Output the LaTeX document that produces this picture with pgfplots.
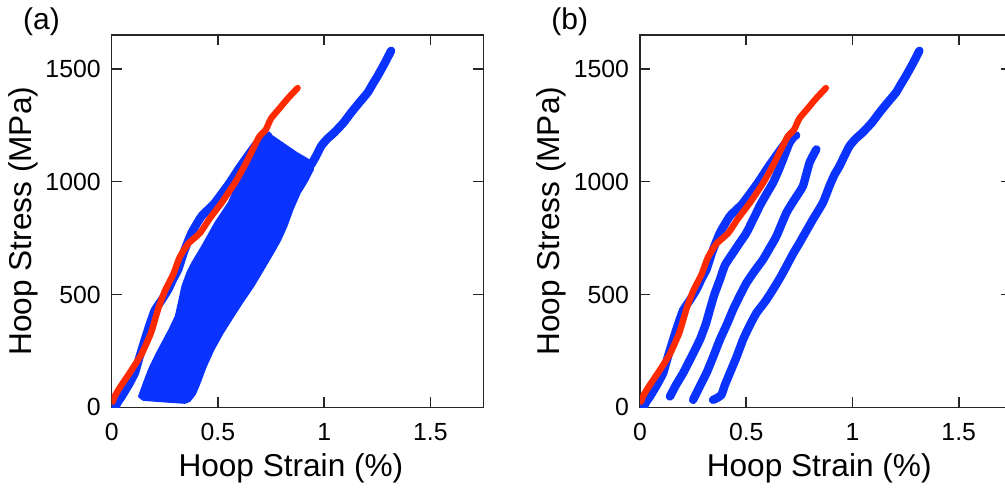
\documentclass[border=0pt]{standalone}
\usepackage{fontspec}
\setmainfont{Liberation Sans}
\usepackage{pgfplots}
\pgfplotsset{compat=1.18}
\usepackage{pgfplotstable}

\definecolor{hblue}{HTML}{0A33FF}
\definecolor{hred}{HTML}{FF2A00}

% red: monotonic reference test
\pgfplotstableread{
x y
0.005 25
0.015 50
0.040 90
0.090 160
0.140 235
0.185 330
0.220 440
0.250 515
0.290 590
0.320 665
0.360 725
0.415 772
0.460 835
0.520 910
0.580 995
0.625 1070
0.665 1145
0.695 1200
0.725 1230
0.750 1280
0.790 1325
0.830 1370
0.875 1415
}\redtab

% blue: first loading
\pgfplotstableread{
x y
0.016 0
0.030 25
0.047 48
0.080 100
0.109 152
0.130 220
0.156 300
0.180 370
0.203 430
0.235 475
0.266 522
0.290 570
0.313 611
0.330 660
0.344 699
0.376 773
0.423 847
0.480 900
0.520 950
0.555 995
0.600 1060
0.645 1120
0.680 1165
0.710 1195
0.735 1205
}\blueA

% blue: second loading
\pgfplotstableread{
x y
0.141 48
0.170 100
0.203 152
0.240 220
0.282 300
0.310 370
0.329 433
0.350 500
0.376 566
0.400 630
0.438 685
0.470 730
0.501 773
0.548 862
0.563 892
0.595 945
0.626 995
0.650 1045
0.673 1099
0.704 1173
0.728 1203
}\blueB

% blue: third loading
\pgfplotstableread{
x y
0.250 33
0.280 90
0.313 152
0.345 225
0.376 300
0.410 370
0.438 433
0.470 495
0.501 551
0.540 605
0.579 655
0.610 705
0.642 758
0.689 862
0.730 925
0.767 981
0.798 1084
0.830 1143
}\blueC

% blue: final loading to failure
\pgfplotstableread{
x y
0.344 33
0.360 40
0.383 55
0.400 100
0.423 152
0.455 225
0.485 300
0.515 360
0.548 418
0.590 470
0.626 522
0.660 575
0.689 625
0.720 680
0.751 729
0.785 785
0.814 833
0.861 907
0.892 981
0.915 1030
0.939 1069
0.960 1110
0.986 1158
1.015 1190
1.048 1218
1.090 1260
1.127 1306
1.165 1350
1.205 1395
1.230 1435
1.252 1469
1.285 1525
1.315 1580
}\blueD

% upper part of final loading (panel a)
\pgfplotstableread{
x y
0.939 1075
0.960 1110
0.986 1158
1.015 1190
1.048 1218
1.090 1260
1.127 1306
1.165 1350
1.205 1395
1.230 1435
1.252 1469
1.285 1525
1.315 1580
}\blueDtop

% cyclic band (panel a)
\pgfplotstableread{
x y
0.131 48
0.155 110
0.178 167
0.210 230
0.241 285
0.275 345
0.304 403
0.320 470
0.335 536
0.360 600
0.382 640
0.429 714
0.491 818
0.554 907
0.601 1010
0.663 1129
0.700 1190
0.726 1218
0.800 1170
0.870 1125
0.930 1092
0.945 1055
0.915 1000
0.883 951
0.850 880
0.820 803
0.790 740
0.757 685
0.710 610
0.663 536
0.615 470
0.569 403
0.520 330
0.476 255
0.440 180
0.411 107
0.390 60
0.365 30
0.345 22
0.250 28
0.150 35
0.131 48
}\band

\pgfplotsset{
  hoop/.style={
    scale only axis, width=185.9pt, height=186.15pt,
    xmin=0, xmax=1.75, ymin=0, ymax=1650,
    xtick={0,0.5,1,1.5}, ytick={0,500,1000,1500},
    xticklabels={0,0.5,1,1.5},
    scaled ticks=false,
    /pgf/number format/1000 sep={},
    /pgf/number format/assume math mode=true,
    axis line style={line width=0.8pt, black!85},
    major tick length=5.2pt,
    tick style={line width=0.8pt, black!85},
    tick align=inside,
    minor tick num=0,
    tick label style={font=\fontsize{12.4}{14}\selectfont},
    yticklabel style={xshift=-2pt},
    xticklabel style={yshift=-4.6pt},
    label style={font=\fontsize{15.8}{18}\selectfont},
    xlabel={Hoop Strain (\%)},
    ylabel={Hoop Stress (MPa)},
    xlabel style={at={(axis description cs:0.482,-0.164)}, anchor=center},
    ylabel style={at={(axis description cs:-0.2386,0.5)}, rotate=0, anchor=center},
    every axis title shift=0pt,
    title style={at={(axis description cs:-0.189,1.035)}, anchor=center,
      font=\fontsize{15}{18}\selectfont},
    bl/.style={hblue, line width=4.2pt, line cap=round, line join=round,
      smooth, tension=0.3},
    rl/.style={hred, line width=3.2pt, line cap=round, line join=round,
      smooth, tension=0.3},
  }
}

\begin{document}
\begin{tikzpicture}
\begin{axis}[hoop, title={(a)}]
  \addplot[hblue, fill=hblue, line width=1.5pt, line join=round] table {\band} -- cycle;
  \addplot[bl] table {\blueA};
  \addplot[bl] table {\blueDtop};
  \addplot[rl] table {\redtab};
\end{axis}
\begin{axis}[hoop, title={(b)}, at={(264.15pt,0pt)}]
  \addplot[bl] table {\blueA};
  \addplot[bl] table {\blueB};
  \addplot[bl] table {\blueC};
  \addplot[bl] table {\blueD};
  \addplot[rl] table {\redtab};
\end{axis}
\pgfresetboundingbox
\useasboundingbox (-55.85pt,-39.85pt) rectangle (446.65pt,203.65pt);
\end{tikzpicture}
\end{document}
